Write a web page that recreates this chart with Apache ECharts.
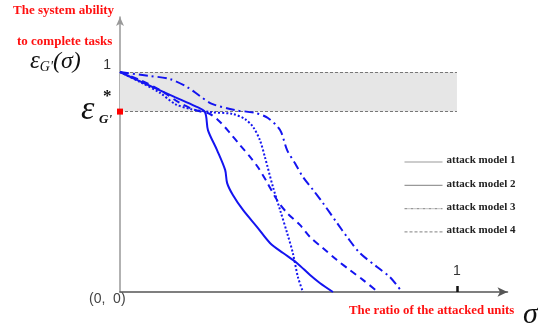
<!DOCTYPE html>
<html>
<head>
<meta charset="utf-8">
<script src="https://cdn.jsdelivr.net/npm/echarts@6/dist/echarts.min.js"></script>
<style>html,body{margin:0;padding:0;background:#fff}#c{width:538px;height:327px}</style>
</head>
<body>
<div id="c"></div>
<script>
// ---- data (fraction of attacked units -> system ability) ----
const seriesNames = ['attack model 1', 'attack model 2', 'attack model 3', 'attack model 4'];
const model1X = [0, 0.050, 0.104, 0.163, 0.223, 0.252, 0.261, 0.288, 0.312, 0.318, 0.335, 0.365, 0.407, 0.445, 0.484, 0.525, 0.564, 0.593, 0.632];
const model1Y = [1.0, 0.964, 0.927, 0.886, 0.845, 0.818, 0.736, 0.645, 0.555, 0.495, 0.441, 0.373, 0.295, 0.223, 0.177, 0.132, 0.077, 0.041, 0];
const model2X = [0, 0.059, 0.119, 0.163, 0.208, 0.267, 0.335, 0.371, 0.395, 0.415, 0.430, 0.454, 0.475, 0.496, 0.513, 0.528, 0.543];
const model2Y = [1.0, 0.955, 0.905, 0.855, 0.832, 0.818, 0.809, 0.786, 0.750, 0.691, 0.614, 0.477, 0.373, 0.268, 0.177, 0.068, 0];
const model3X = [0, 0.089, 0.148, 0.199, 0.237, 0.273, 0.341, 0.401, 0.439, 0.475, 0.496, 0.519, 0.543, 0.573, 0.602, 0.644, 0.674, 0.712, 0.763, 0.801, 0.837];
const model3Y = [1.0, 0.982, 0.968, 0.932, 0.891, 0.855, 0.827, 0.814, 0.791, 0.736, 0.645, 0.586, 0.523, 0.464, 0.405, 0.314, 0.250, 0.177, 0.114, 0.068, 0];
const model4X = [0, 0.059, 0.119, 0.178, 0.223, 0.267, 0.297, 0.326, 0.356, 0.386, 0.409, 0.436, 0.466, 0.496, 0.534, 0.564, 0.602, 0.644, 0.682, 0.721, 0.766];
const model4Y = [1.0, 0.964, 0.918, 0.859, 0.827, 0.809, 0.773, 0.723, 0.668, 0.614, 0.568, 0.500, 0.418, 0.359, 0.305, 0.250, 0.200, 0.145, 0.100, 0.055, 0];
const epsStar = 0.82;          // threshold epsilon*_G'
const bandTop = 1.0;
const xTickValues = [1];
const yTickValues = [1];
const bandText = ['The area where the system information', 'structure is unaffected basically'];
const yTitle = ['The system ability', 'to complete tasks'];
const xTitle = 'The ratio of the attacked units';

function zip(xs, ys) { return xs.map((x, i) => [x, ys[i]]); }

const BLUE = '#1414f0';
const serif = '"Liberation Serif", "Times New Roman", serif';
const sans = '"Liberation Sans", Arial, sans-serif';
const lineStyles = [
  { type: 'solid' },
  { type: [2, 2] },
  { type: [9, 4, 2, 4] },
  { type: [7, 5] }
];
const allX = [model1X, model2X, model3X, model4X];
const allY = [model1Y, model2Y, model3Y, model4Y];

const series = allX.map((xs, i) => ({
  name: seriesNames[i],
  type: 'line',
  data: zip(xs, allY[i]),
  showSymbol: false,
  smooth: 0.3,
  z: 5,
  lineStyle: { color: BLUE, width: 2, type: lineStyles[i].type },
  itemStyle: { color: BLUE }
}));

// band + threshold marks
series.push({
  type: 'line',
  data: [],
  z: 1,
  silent: true,
  markArea: {
    silent: true,
    itemStyle: { color: '#e6e6e6' },
    data: [[{ coord: [0, bandTop] }, { coord: [1, epsStar] }]]
  },
  markLine: {
    silent: true,
    symbol: 'none',
    label: { show: false },
    lineStyle: { color: '#777', type: [3, 2], width: 1 },
    data: [
      [{ coord: [0, bandTop] }, { coord: [1, bandTop] }],
      [{ coord: [0, epsStar] }, { coord: [1, epsStar] }]
    ]
  },
  markPoint: {
    silent: true,
    symbol: 'rect',
    symbolSize: 6,
    itemStyle: { color: '#ff0000' },
    label: { show: false },
    data: [{ coord: [0, epsStar] }]
  }
});

const chart = echarts.init(document.getElementById('c'), null, { renderer: 'canvas' });
chart.setOption({
  animation: false,
  backgroundColor: '#fff',
  grid: { left: 120, right: 30.5, top: 17, bottom: 35, containLabel: false },
  xAxis: {
    type: 'value', min: 0, max: 1.15,
    splitLine: { show: false },
    axisLine: { show: true, onZero: false, symbol: ['none', 'arrow'], symbolSize: [7, 10],
      lineStyle: { color: '#555', width: 1.5 } },
    axisTick: { show: true, inside: true, length: 6, customValues: xTickValues,
      lineStyle: { color: '#111', width: 2.5 } },
    axisLabel: { show: true, inside: true, margin: 14, customValues: xTickValues,
      color: '#333', fontFamily: sans, fontSize: 14, formatter: v => String(v) }
  },
  yAxis: {
    type: 'value', min: 0, max: 1.25,
    splitLine: { show: false },
    axisLine: { show: true, onZero: false, symbol: ['none', 'arrow'], symbolSize: [6, 9],
      lineStyle: { color: '#999', width: 1.5 } },
    axisTick: { show: false },
    axisLabel: { show: true, customValues: yTickValues, margin: 9, verticalAlign: 'bottom',
      color: '#333', fontFamily: sans, fontSize: 14, formatter: v => String(v) }
  },
  series: series,
  graphic: [
    { type: 'text', left: 13, top: 4, style: { text: yTitle[0], fill: '#ff1010', font: 'bold 13px ' + serif } },
    { type: 'text', left: 17, top: 35, style: { text: yTitle[1], fill: '#ff1010', font: 'bold 13px ' + serif } },
    { type: 'text', left: 30, top: 49, style: {
        text: '{e|ε}{s|G\'}{p|(σ)}',
        rich: {
          e: { font: 'italic 25px ' + serif, fill: '#111' },
          s: { font: 'italic 14px ' + serif, fill: '#111', verticalAlign: 'bottom', padding: [12, 0, 0, 0] },
          p: { font: 'italic 24px ' + serif, fill: '#111' }
        } } },
    { type: 'text', left: 81, top: 93, style: { text: 'ε', fill: '#111', font: 'italic 34px ' + serif } },
    { type: 'text', left: 103, top: 88, style: { text: '*', fill: '#111', font: 'bold 17px ' + serif } },
    { type: 'text', left: 99, top: 113, style: { text: 'G\'', fill: '#111', font: 'italic bold 13px ' + serif } },
    { type: 'text', left: 225, top: 75, style: { text: bandText[0], fill: '#ff1818', font: 'bold 12.8px ' + serif } },
    { type: 'text', left: 254, top: 96, style: { text: bandText[1], fill: '#ff1818', font: 'bold 12.8px ' + serif } },
    { type: 'text', left: 89, top: 292, style: { text: '(0,  0)', fill: '#444', font: '14px ' + sans } },
    { type: 'text', left: 349, top: 304, style: { text: xTitle, fill: '#ff1010', font: 'bold 12.8px ' + serif } },
    { type: 'text', left: 523, top: 300, style: { text: 'σ', fill: '#111', font: 'italic 30px ' + serif } },
    // legend
    { type: 'group', left: 402, top: 155, children: seriesNames.map((n, i) => ({
        type: 'group', y: i * 23.3, children: [
          { type: 'line', shape: { x1: 0, y1: 7, x2: 38, y2: 7 },
            style: { stroke: '#999', lineWidth: 1.2, lineDash: i === 0 || i === 1 ? null : (i === 2 ? [3, 1, 1, 1] : [3, 2]) } },
          { type: 'text', x: 42, y: 0, style: { text: n, fill: '#222', font: 'bold 11px ' + serif } }
        ] })) }
  ]
});
</script>
</body>
</html>
